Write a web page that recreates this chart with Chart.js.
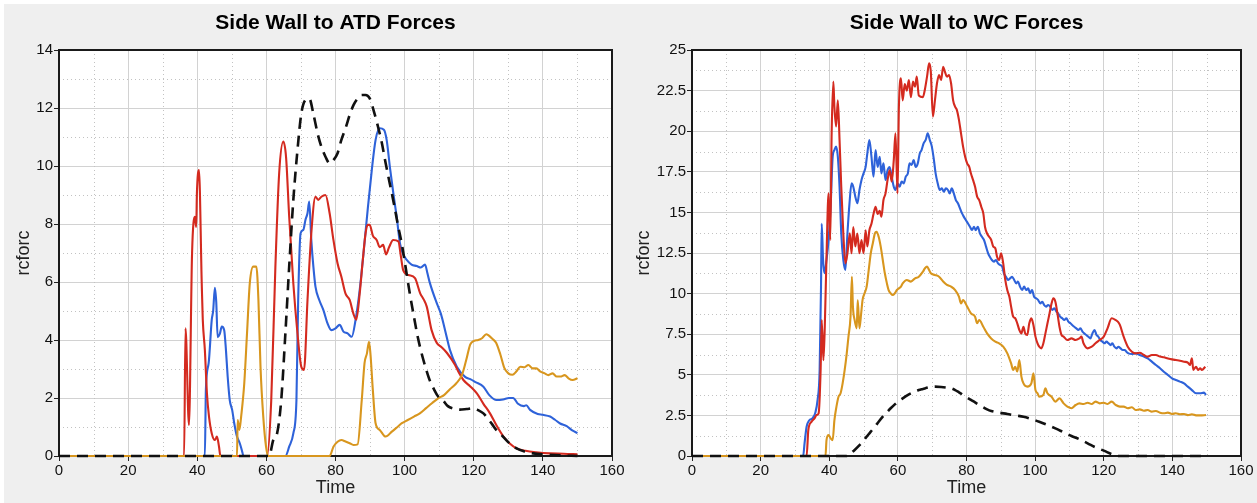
<!DOCTYPE html>
<html>
<head>
<meta charset="utf-8">
<title>Side Wall Forces</title>
<script src="https://cdn.jsdelivr.net/npm/chart.js@4.4.0/dist/chart.umd.min.js"></script>
<style>
  html, body { margin: 0; padding: 0; background: #ffffff; overflow: hidden; }
  #backdrop { position: absolute; left: 4px; top: 4px; width: 1253px; height: 499px; background: #efefef; }
  canvas { position: absolute; top: 0; }
  #atdChart { left: 0; }
  #wcChart { left: 629px; }
</style>
</head>
<body>
<div id="backdrop"></div>
<canvas id="atdChart" width="628" height="503"></canvas>
<canvas id="wcChart" width="628" height="503"></canvas>
<script>
// Time / rcforc pairs for each contact, read per curve

// Side wall to ATD
const atdRed = [[0,0],[36.2,0],[36.6,4.4],[37.6,1.07],[38.5,7.0],[39.3,8.25],[39.7,7.9],[39.9,9.06],[40.5,9.86],[41.3,5.95],[41.6,4.7],[42.2,3.66],[42.8,2.16],[43.4,1.36],[44.2,0.78],[45.1,0.55],[45.7,0.67],[46.3,0.32],[46.7,0],[60.2,0],[61.4,1.9],[62.6,6.5],[63.7,9.75],[64.9,10.84],[65.7,10.3],[66.6,8.25],[67.8,5.95],[69,4.23],[70.1,3.08],[70.9,2.97],[71.9,5.38],[73,7.68],[74.2,8.94],[75,8.83],[75.9,8.94],[77.1,9.0],[78.3,8.37],[79.4,7.45],[80.6,6.64],[81.7,6.18],[82.9,5.6],[84.1,5.38],[85.2,4.9],[86,4.7],[87,5.6],[87.9,6.76],[88.7,7.68],[89.3,7.97],[89.9,7.97],[90.8,7.6],[91.9,7.45],[92.8,7.2],[93.8,7.28],[94.6,6.95],[95.5,7.2],[96.7,7.45],[98.2,7.4],[98.9,6.9],[99.6,6.4],[101.1,6.24],[103,6.13],[104.5,5.61],[105.5,5.4],[106.4,5.15],[107.8,4.34],[109.3,3.9],[110.7,3.75],[112.2,3.56],[114.6,3.14],[115.8,2.85],[117,2.62],[119,2.4],[120.9,2.16],[122.8,1.8],[124.7,1.47],[126.6,1.05],[128.6,0.67],[130.5,0.42],[132.4,0.26],[135,0.18],[138,0.13],[142,0.09],[146,0.08],[150,0.06]];
const atdBlue = [[0,0],[42.2,0],[42.5,2.3],[43.3,3.2],[44.2,4.7],[44.6,5.0],[45.1,5.8],[45.5,5.3],[45.9,4.1],[46.5,4.2],[47.1,4.46],[47.8,4.34],[48.3,3.66],[48.8,2.74],[49.4,1.93],[50.1,1.59],[50.7,1.13],[51.5,0.67],[52.3,0.44],[52.9,0.2],[53.4,0],[65.5,0],[66.6,0.32],[67.8,0.78],[68.7,1.93],[69.2,5.38],[69.9,7.68],[70.7,7.8],[71.3,8.14],[71.9,8.37],[72.4,8.77],[73,7.45],[73.6,6.53],[74.2,5.84],[75.3,5.38],[76.5,5.03],[77.7,4.57],[78.8,4.34],[80,4.4],[81.2,4.52],[82.3,4.29],[83.5,4.23],[84.7,4.11],[85.8,4.69],[87,5.72],[88.1,6.99],[89.3,8.48],[90.5,9.86],[91.6,10.9],[92.8,11.3],[94,11.25],[94.8,10.9],[95.8,9.9],[96.8,9.0],[97.7,8.25],[98.7,7.3],[99.6,6.95],[100.6,6.76],[102,6.6],[103.5,6.55],[104.7,6.5],[105.9,6.6],[106.6,6.3],[107.3,5.97],[109.3,5.27],[110.5,4.9],[111.7,4.34],[113.1,3.66],[115.1,3.08],[117.5,2.73],[119,2.65],[120.5,2.55],[122.8,2.39],[124.5,2.1],[126.6,1.93],[128.5,1.95],[130.2,2.0],[131.4,2.0],[132.8,1.8],[134.5,1.72],[135.2,1.75],[136.3,1.59],[138.5,1.45],[140,1.42],[142.1,1.36],[143.5,1.25],[145,1.12],[146.9,1.03],[148.5,0.88],[150,0.79]];
const atdOrange = [[0,0],[51.5,0],[51.7,1.24],[52.2,0.9],[52.7,1.36],[53.6,2.5],[54.4,4.23],[55.2,5.95],[56.2,6.53],[57.1,6.53],[57.7,5.38],[58.3,3.08],[59.1,1.36],[59.9,0.32],[60.5,0],[78.3,0],[79.4,0.32],[80.6,0.49],[81.7,0.55],[82.9,0.5],[84.1,0.44],[85.2,0.38],[86.4,0.4],[87.6,1.93],[88.4,3.2],[89.1,3.54],[89.7,3.94],[90.1,3.54],[90.8,2.28],[91.6,1.13],[92.8,0.9],[94.5,0.67],[96.3,0.84],[98,1.01],[99.2,1.13],[100.9,1.24],[102.7,1.36],[104.4,1.47],[106.2,1.65],[107.9,1.82],[109.7,1.99],[111.4,2.1],[113.1,2.3],[114.9,2.5],[116.6,2.8],[117.8,3.3],[119,3.85],[120.1,3.97],[121.3,4.0],[122.4,4.06],[123.6,4.2],[124.2,4.17],[125.3,4.05],[126.5,3.9],[127.7,3.5],[128.8,3.05],[130,2.85],[131.2,2.8],[132.3,2.91],[133.5,3.08],[134.7,3.06],[135.8,3.14],[137,3.02],[138.1,3.02],[139.3,2.91],[140.5,2.85],[141.6,2.79],[142.8,2.85],[144,2.74],[145.1,2.74],[146.3,2.79],[147.4,2.68],[148.6,2.62],[150,2.68]];
const atdDummy = [[0,0],[60.8,0],[62,0.55],[63.1,0.78],[64.3,1.93],[65.5,4.23],[66.6,6.53],[67.8,8.83],[69,10.55],[70.1,11.8],[71.3,12.28],[72.4,12.33],[73.6,11.8],[74.8,11.13],[75.9,10.67],[77.1,10.32],[78.3,10.09],[79.4,10.2],[80.6,10.44],[81.7,10.9],[82.9,11.3],[84.1,11.76],[85.2,12.1],[86.4,12.33],[87.6,12.45],[88.7,12.45],[89.9,12.33],[91,11.93],[92.2,11.4],[93.4,10.8],[94.5,10.1],[95.7,9.4],[96.9,8.7],[98,8.0],[99.2,7.3],[100.3,6.5],[101.5,5.6],[102.7,4.8],[103.8,4.1],[105,3.5],[106.2,3.0],[107.3,2.6],[108.5,2.3],[109.7,2.05],[111.2,1.9],[112.5,1.72],[114.1,1.64],[116,1.6],[118,1.62],[119.9,1.64],[121.3,1.58],[122.8,1.47],[124,1.3],[125.3,1.1],[126.5,0.9],[127.6,0.78],[129,0.6],[130.5,0.42],[132.4,0.26],[134.5,0.16],[137.2,0.09],[141,0.05],[145,0.02],[150,0]];

// Side wall to wheelchair
const wcRed = [[0,0],[33.4,0],[33.9,1.6],[34.8,2.1],[35.7,2.32],[36.3,2.52],[36.9,2.63],[37.5,5.4],[37.8,8.37],[38.3,5.9],[38.7,7.96],[39.2,12.27],[39.8,16.17],[40.3,13.3],[40.7,19.87],[41.2,23.05],[41.5,21.5],[42,20.3],[42.5,21.9],[43,19.46],[43.5,16.58],[44.1,13.7],[44.7,11.86],[45.3,12.48],[46,13.71],[46.5,12.48],[47,14.1],[47.6,12.9],[48.2,13.7],[48.8,12.48],[49.4,13.3],[50,12.48],[50.6,13.9],[51.1,12.9],[51.7,13.9],[52.3,14.3],[52.9,14.9],[53.5,15.35],[54.1,14.9],[54.7,15.1],[55.2,14.74],[55.8,15.76],[56.4,16.17],[57,17],[57.6,17.6],[58.2,16.9],[58.8,18.2],[59.3,19.87],[59.9,16.17],[60.3,21.5],[60.9,23.25],[61.4,21.9],[62,22.9],[62.6,22.5],[63.2,23.15],[63.8,22.1],[64.4,23.05],[65,22.74],[65.5,23.36],[66.1,22.2],[67.3,22.1],[67.9,22.6],[68.5,23.36],[69.1,24.18],[69.6,23.67],[70.2,20.9],[70.8,21.9],[71.4,22.95],[72,23.46],[72.6,23.15],[73.2,23.97],[73.7,23.67],[74.3,23.36],[74.9,23.46],[75.5,22.95],[76.1,21.9],[76.7,21.5],[77.2,21.3],[77.8,20.7],[78.4,19.87],[79,19.05],[79.6,18.43],[80.2,18.02],[80.8,17.8],[81.3,17.4],[81.9,17],[82.5,16.58],[83.1,15.97],[83.7,15.76],[84.3,15.35],[84.9,14.94],[85.4,14.1],[86,13.7],[86.6,13.5],[87.2,13.3],[87.8,12.89],[88.4,12.79],[88.9,12.27],[89.5,12.07],[90.1,12.48],[90.7,11.86],[91.3,10.84],[91.9,10.2],[92.5,9.81],[93,9.2],[93.6,8.58],[94.2,8.48],[94.8,8.17],[95.4,7.76],[96,7.55],[96.6,7.96],[97.1,7.55],[97.7,7.45],[98.3,8.17],[98.9,8.48],[99.5,8.07],[100.1,7.35],[100.7,6.94],[101.2,6.73],[101.8,6.63],[102.4,6.94],[103,7.55],[103.6,8.17],[104.2,8.78],[104.8,9.4],[105.3,9.71],[105.9,9.5],[106.5,8.78],[107.1,7.96],[107.7,7.45],[108.3,7.35],[109.4,7.14],[110.6,7.24],[111.8,7.14],[112.9,7.24],[113.5,7.35],[114.1,6.94],[115.3,6.63],[116.5,6.73],[117.6,6.94],[118.8,7.14],[120,7.35],[121.1,7.86],[122.3,8.48],[123.5,8.37],[124.1,8.27],[124.7,8.07],[125.8,7.35],[127,6.73],[128.2,6.42],[129.3,6.32],[130.5,6.36],[131.7,6.22],[132.8,6.12],[134,6.22],[135.2,6.22],[136.4,6.12],[137.5,6.08],[138.7,6.01],[139.9,5.95],[141,5.91],[142.2,5.87],[143.4,5.81],[144.5,5.75],[145.1,5.6],[145.7,6.01],[146.1,5.3],[146.9,5.5],[147.5,5.3],[148.1,5.4],[148.6,5.3],[149.6,5.5]];
const wcBlue = [[0,0],[32.4,0],[32.8,0.78],[33.4,1.8],[34.2,2.2],[35.1,2.32],[35.9,2.63],[36.6,3.45],[37.2,5.3],[37.6,10.4],[37.8,14.3],[38.2,12.07],[38.6,11.25],[39.2,12.07],[39.8,13.3],[40.4,15.35],[41,18.43],[41.5,18.84],[42,19.05],[42.5,18.43],[43,16.58],[43.5,13.7],[44.1,12.07],[44.7,11.45],[45.3,13.7],[45.9,15.56],[46.5,16.79],[47,16.58],[47.6,15.97],[48.2,15.56],[48.8,16.38],[49.4,17],[50,17.4],[50.6,17.8],[51.1,18.64],[51.7,19.46],[52.3,18.43],[52.9,17.2],[53.5,18.84],[54.1,17.8],[54.7,18.43],[55.2,17.4],[55.8,18.02],[56.4,17],[57,17.6],[57.6,17.8],[58.2,17.2],[58.8,16.58],[59.3,16.38],[59.9,16.79],[60.5,16.58],[61.1,16.9],[61.7,16.79],[62.3,17.2],[62.9,17.4],[63.4,18.02],[64,17.92],[64.6,18.23],[65.2,17.8],[65.8,18.02],[66.4,18.64],[66.9,18.84],[67.5,19.25],[68.1,19.46],[68.7,19.87],[69.3,19.46],[69.9,19.05],[70.5,18.23],[71,17.4],[71.6,16.79],[72.2,16.38],[72.8,16.48],[73.4,16.28],[74,16.48],[74.6,16.38],[75.1,16.17],[75.7,16.48],[76.3,16.17],[76.9,15.76],[77.5,15.56],[78.1,15.25],[78.7,14.94],[79.2,14.74],[79.8,14.53],[80.4,14.33],[81,14.12],[81.6,13.92],[82.2,14.12],[82.7,13.9],[83.3,14.12],[83.9,13.71],[84.5,13.5],[85.1,13.3],[85.7,12.89],[86.3,12.48],[86.8,12.27],[87.4,12.07],[88,11.97],[88.6,12.07],[89.2,11.86],[89.8,11.76],[90.4,11.66],[90.9,11.25],[91.5,11.04],[92.1,10.84],[92.7,10.94],[93.3,11.04],[93.9,10.84],[94.5,10.63],[95,10.74],[95.6,10.43],[96.2,10.22],[96.8,10.43],[97.4,10.22],[98,10.32],[98.5,10.02],[99.1,10.22],[99.7,9.81],[100.3,9.71],[100.9,9.6],[101.5,9.4],[102.1,9.5],[102.6,9.3],[103.2,9.2],[103.8,9.3],[104.4,9.2],[105,8.99],[105.6,9.09],[106.2,8.89],[106.7,8.78],[107.3,8.58],[107.9,8.48],[108.5,8.37],[109.1,8.48],[109.7,8.27],[110.3,8.17],[110.8,8.07],[111.4,7.96],[112,7.86],[112.6,7.76],[113.2,7.86],[113.8,7.66],[114.3,7.55],[114.9,7.45],[115.5,7.35],[116.1,7.24],[116.7,7.55],[117.3,7.76],[117.9,7.45],[118.4,7.35],[119,7.14],[119.6,7.04],[120.2,6.94],[120.8,7.04],[121.4,6.94],[122,6.83],[122.5,6.94],[123.1,6.73],[123.7,6.63],[124.3,6.73],[124.9,6.63],[125.5,6.53],[126.1,6.53],[126.6,6.42],[127.2,6.32],[128.2,6.28],[129.3,6.32],[130.5,6.22],[131.7,6.12],[132.8,6.01],[134,5.81],[135.2,5.6],[136.4,5.4],[137.5,5.19],[138.7,4.99],[139.9,4.78],[141,4.68],[142.2,4.58],[143.4,4.47],[144.5,4.27],[145.7,4.06],[146.9,3.86],[148.1,3.86],[149.2,3.9],[149.8,3.76]];
const wcOrange = [[0,0],[38.9,0],[39.2,0.98],[39.8,1.29],[40.4,1.09],[41,0.98],[41.5,2.2],[42.1,3.04],[42.7,3.65],[43.3,3.86],[43.9,4.47],[44.5,5.3],[45.1,6.32],[45.6,7.35],[46.2,8.58],[46.6,11.04],[46.9,9.2],[47.4,8.37],[48,7.86],[48.3,9.6],[48.8,7.86],[49.3,8.78],[49.7,9.6],[50.3,10.02],[50.9,10.43],[51.5,11.45],[52.1,12.48],[52.7,13.1],[53.3,13.71],[53.8,13.81],[54.4,13.5],[55,12.89],[55.6,12.07],[56.2,11.25],[56.8,10.63],[57.3,10.22],[57.9,10.02],[58.5,9.91],[59.1,10.02],[59.7,10.22],[60.3,10.32],[60.9,10.43],[61.4,10.63],[62.6,10.84],[63.8,10.74],[65,10.94],[66.1,11.04],[67.3,11.35],[67.9,11.56],[68.5,11.66],[69.1,11.45],[69.6,11.25],[70.8,11.15],[72,11.04],[73.2,10.74],[74.3,10.53],[75.5,10.43],[76.7,10.22],[77.8,9.81],[78.4,9.4],[79,9.6],[80.2,9.2],[81.3,8.78],[82.5,8.58],[83.1,8.17],[83.7,8.37],[84.9,7.96],[86,7.55],[87.2,7.24],[88.4,7.04],[89.5,6.94],[90.7,6.73],[91.9,6.32],[93,5.7],[93.6,5.3],[94.2,5.5],[94.8,5.2],[95.4,5.91],[96,4.89],[96.6,4.47],[97.7,4.27],[98.9,4.47],[99.5,5.09],[100.1,4.06],[100.7,3.86],[101.2,3.65],[102.4,3.76],[103,4.17],[103.6,3.86],[104.8,3.65],[105.9,3.35],[107.1,3.55],[108.3,3.24],[109.4,3.04],[110.6,2.94],[111.8,3.14],[112.9,3.24],[114.1,3.2],[115.3,3.28],[116.5,3.2],[117.6,3.35],[118.8,3.24],[120,3.28],[121.1,3.2],[122.3,3.35],[123.5,3.14],[124.7,3.04],[125.8,3.04],[127,2.94],[128.2,3.0],[129.3,2.83],[130.5,2.87],[131.7,2.79],[132.8,2.83],[134,2.73],[135.2,2.77],[136.4,2.67],[137.5,2.63],[138.7,2.67],[139.9,2.59],[141,2.63],[142.2,2.57],[143.4,2.59],[144.5,2.52],[145.7,2.57],[146.9,2.5],[148.1,2.5],[149.8,2.52]];
const wcDummy = [[0,0],[45.1,0],[46.2,0.16],[47.4,0.37],[48.6,0.62],[49.7,0.88],[50.9,1.19],[52.1,1.5],[53.3,1.8],[54.4,2.11],[55.6,2.42],[56.8,2.69],[57.9,2.94],[59.1,3.18],[60.3,3.39],[61.4,3.55],[62.6,3.72],[63.8,3.86],[65,3.96],[66.1,4.06],[67.3,4.13],[69.1,4.23],[70.8,4.27],[72.6,4.25],[74.3,4.21],[75.5,4.17],[76.7,4.06],[77.8,3.92],[79,3.76],[80.2,3.59],[81.3,3.45],[82.5,3.3],[83.7,3.14],[84.9,3.0],[86,2.87],[87.2,2.77],[89.5,2.67],[91.9,2.59],[94.2,2.5],[96.6,2.42],[98.9,2.28],[101.2,2.11],[103.6,1.91],[105.9,1.7],[108.3,1.46],[110.6,1.23],[112.9,1.03],[115.3,0.78],[117.6,0.53],[120,0.33],[122.3,0.12],[124.1,0],[149.8,0]];

// axis settings
const timeMin = 0, timeMax = 160, timeStep = 20;
const atdMax = 14, atdStep = 2;
const wcMax = 25, wcStep = 2.5;

const RED = '#d42a1f';
const BLUE = '#2e62d9';
const ORANGE = '#d8961e';
const BLACK = '#111111';
const FONT = '"Liberation Sans", Arial, sans-serif';

Chart.defaults.font.family = FONT;
Chart.defaults.color = '#111';

// white plot area, dotted minor grid, dark frame, title centred over the plot
const plotFrame = {
  id: 'plotFrame',
  beforeDraw(chart) {
    const { ctx, chartArea: a } = chart;
    ctx.save();
    ctx.fillStyle = '#ffffff';
    ctx.fillRect(a.left, a.top, a.right - a.left, a.bottom - a.top);
    ctx.restore();
  },
  beforeDatasetsDraw(chart) {
    const { ctx, chartArea: a, scales } = chart;
    const x = scales.x, y = scales.y;
    ctx.save();
    ctx.strokeStyle = '#c2c2c2';
    ctx.lineWidth = 1;
    ctx.setLineDash([1, 3]);
    ctx.beginPath();
    for (let i = 0; i < x.ticks.length - 1; i++) {
      const px = Math.round(x.getPixelForValue((x.ticks[i].value + x.ticks[i + 1].value) / 2)) + 0.5;
      ctx.moveTo(px, a.top);
      ctx.lineTo(px, a.bottom);
    }
    for (let i = 0; i < y.ticks.length - 1; i++) {
      const py = Math.round(y.getPixelForValue((y.ticks[i].value + y.ticks[i + 1].value) / 2)) + 0.5;
      ctx.moveTo(a.left, py);
      ctx.lineTo(a.right, py);
    }
    ctx.stroke();
    ctx.setLineDash([]);
    ctx.strokeStyle = '#1a1a1a';
    ctx.lineWidth = 2;
    ctx.strokeRect(a.left, a.top, a.right - a.left, a.bottom - a.top);
    ctx.restore();
  },
  afterDraw(chart, args, opts) {
    const { ctx, chartArea: a } = chart;
    ctx.save();
    ctx.font = 'bold 21px ' + FONT;
    ctx.fillStyle = '#000';
    ctx.textAlign = 'center';
    ctx.textBaseline = 'alphabetic';
    ctx.fillText(opts.text, (a.left + a.right) / 2, 29);
    ctx.restore();
  }
};

function toPoints(pairs) {
  return pairs.map(p => ({ x: p[0], y: p[1] }));
}

function series(pairs, color, order, dashed) {
  return {
    data: toPoints(pairs),
    borderColor: color,
    borderWidth: dashed ? 2.6 : 2.1,
    borderDash: dashed ? [11, 7] : [],
    pointRadius: 0,
    cubicInterpolationMode: 'monotone',
    fill: false,
    clip: 3,
    order: order
  };
}

function makeChart(id, title, sets, yMax, yStep, padLeft, yWidth) {
  return new Chart(document.getElementById(id), {
    type: 'line',
    data: { datasets: sets },
    plugins: [plotFrame],
    options: {
      responsive: false,
      animation: false,
      events: [],
      layout: { padding: { left: padLeft, right: 16, top: 50, bottom: 0 } },
      plugins: {
        legend: { display: false },
        tooltip: { enabled: false },
        plotFrame: { text: title }
      },
      scales: {
        x: {
          type: 'linear',
          min: timeMin,
          max: timeMax,
          afterFit(scale) { scale.height = 47; },
          border: { display: false },
          grid: { color: '#d2d2d2', lineWidth: 1, tickLength: 5, tickColor: '#222', drawTicks: true },
          ticks: { stepSize: timeStep, padding: 1, maxRotation: 0, autoSkip: false, color: '#111', font: { size: 15 } },
          title: { display: true, text: 'Time', color: '#222', font: { size: 18 }, padding: { top: 0, bottom: 4 } }
        },
        y: {
          type: 'linear',
          min: 0,
          max: yMax,
          afterFit(scale) { scale.width = yWidth; },
          border: { display: false },
          grid: { color: '#d2d2d2', lineWidth: 1, tickLength: 5, tickColor: '#222', drawTicks: true },
          ticks: { stepSize: yStep, padding: 1, color: '#111', font: { size: 15 }, callback: v => String(v) },
          title: { display: true, text: 'rcforc', color: '#222', font: { size: 18 }, padding: { top: 4, bottom: 0 } }
        }
      }
    }
  });
}

makeChart('atdChart', 'Side Wall to ATD Forces', [
  series(atdDummy, BLACK, 0, true),
  series(atdOrange, ORANGE, 1, false),
  series(atdRed, RED, 2, false),
  series(atdBlue, BLUE, 3, false)
], atdMax, atdStep, 9, 50);

makeChart('wcChart', 'Side Wall to WC Forces', [
  series(wcDummy, BLACK, 0, true),
  series(wcOrange, ORANGE, 1, false),
  series(wcRed, RED, 2, false),
  series(wcBlue, BLUE, 3, false)
], wcMax, wcStep, 0, 63);
</script>
</body>
</html>
